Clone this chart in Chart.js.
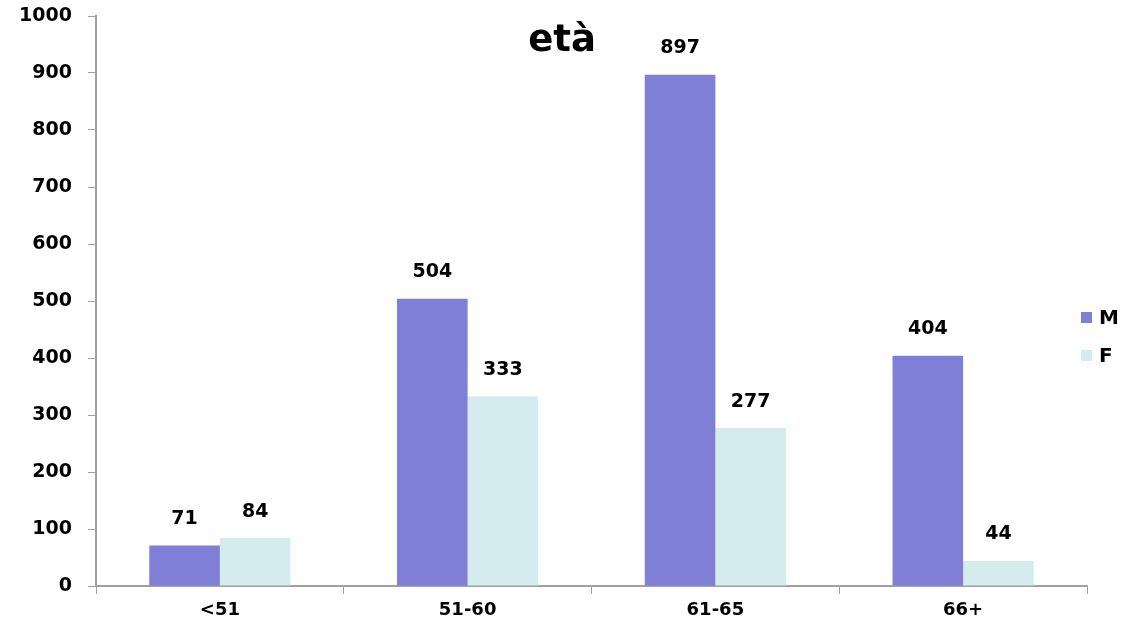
<!DOCTYPE html>
<html>
<head>
<meta charset="utf-8">
<script src="https://cdn.jsdelivr.net/npm/chart.js@4"></script>
<style>
  html, body { margin: 0; padding: 0; background: #fff; }
  #wrap { width: 1133px; height: 632px; position: relative; }
</style>
</head>
<body>
<div id="wrap"><canvas id="grafico"></canvas></div>
<script>
const categorie = ['<51', '51-60', '61-65', '66+'];
const valoriM = [71, 504, 897, 404];
const valoriF = [84, 333, 277, 44];
const etichetteSerie = ['M', 'F'];
const titolo = 'età';

const coloreM = '#7f7fd8';
const coloreF = '#d5ecee';
const grigioAsse = '#a0a0a0';
const fontBase = 'DejaVu Sans';

// etichette sopra le barre
const pluginValori = {
    id: 'valori',
    afterDatasetsDraw(chart) {
        const ctx = chart.ctx;
        ctx.save();
        ctx.font = 'bold 19px "' + fontBase + '"';
        ctx.fillStyle = '#000';
        ctx.textAlign = 'center';
        ctx.textBaseline = 'bottom';
        chart.data.datasets.forEach((ds, i) => {
            chart.getDatasetMeta(i).data.forEach((bar, j) => {
                ctx.fillText(String(ds.data[j]), bar.x, bar.y - 17);
            });
        });
        ctx.restore();
    }
};

// titolo e legenda disegnati sopra l'area del grafico
const pluginTitoloLegenda = {
    id: 'titoloLegenda',
    afterDraw(chart) {
        const ctx = chart.ctx;
        ctx.save();
        ctx.fillStyle = '#000';
        ctx.font = 'bold 37px "' + fontBase + '"';
        ctx.textAlign = 'center';
        ctx.textBaseline = 'middle';
        ctx.fillText(titolo, 562, 41);

        ctx.font = 'bold 20px "' + fontBase + '"';
        ctx.textAlign = 'left';
        chart.data.datasets.forEach((ds, i) => {
            const y = 318 + i * 38;
            ctx.fillStyle = ds.backgroundColor;
            ctx.fillRect(1081, y - 6, 11, 11);
            ctx.fillStyle = '#000';
            ctx.fillText(etichetteSerie[i], 1099, y + 1);
        });
        ctx.restore();
    }
};

new Chart(document.getElementById('grafico').getContext('2d'), {
    type: 'bar',
    data: {
        labels: categorie,
        datasets: [
            { label: etichetteSerie[0], data: valoriM, backgroundColor: coloreM, categoryPercentage: 0.57, barPercentage: 1.0 },
            { label: etichetteSerie[1], data: valoriF, backgroundColor: coloreF, categoryPercentage: 0.57, barPercentage: 1.0 }
        ]
    },
    options: {
        responsive: true,
        maintainAspectRatio: false,
        animation: false,
        layout: { padding: { top: 16, right: 46, left: 0, bottom: 0 } },
        plugins: {
            legend: { display: false },
            title: { display: false },
            tooltip: { enabled: false }
        },
        scales: {
            x: {
                afterFit: s => { s.height = 46; },
                grid: { drawOnChartArea: false, color: grigioAsse, tickLength: 8, offset: true },
                border: { color: grigioAsse, width: 2 },
                ticks: { color: '#000', font: { family: fontBase, size: 18, weight: 'bold' }, padding: 6 }
            },
            y: {
                min: 0,
                max: 1000,
                afterFit: s => { s.width = 96; s.paddingTop = 0; s.paddingBottom = 0; },
                grid: { drawOnChartArea: false, color: grigioAsse, tickLength: 8 },
                border: { color: grigioAsse, width: 2 },
                ticks: {
                    stepSize: 100,
                    color: '#000',
                    font: { family: fontBase, size: 19, weight: 'bold' },
                    padding: 16,
                    callback: v => String(v)
                }
            }
        }
    },
    plugins: [pluginValori, pluginTitoloLegenda]
});
</script>
</body>
</html>
